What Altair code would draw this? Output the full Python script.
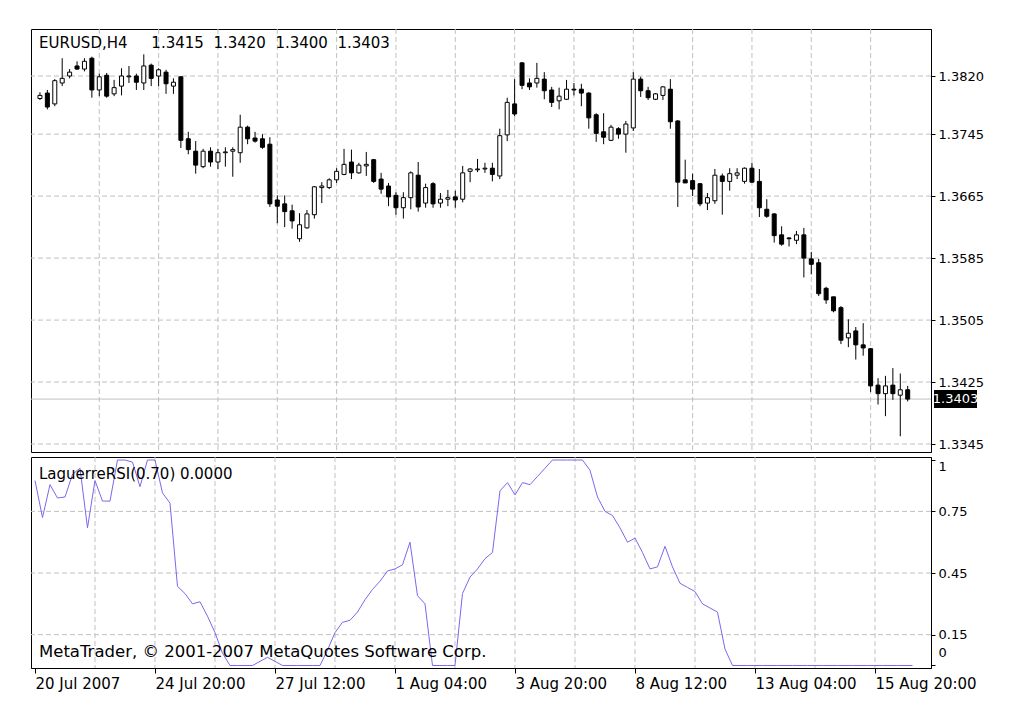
import altair as alt
import pandas as pd

# ---------------- data ----------------
bar_index = list(range(118))
open_ = [1.3791, 1.3798, 1.3784, 1.3811, 1.3820, 1.3833, 1.3829, 1.3843, 1.3802, 1.3821,
         1.3797, 1.3807, 1.3819, 1.3820, 1.3811, 1.3834, 1.3820, 1.3825, 1.3807, 1.3819,
         1.3739, 1.3723, 1.3703, 1.3723, 1.3709, 1.3721, 1.3723, 1.3721, 1.3754, 1.3740,
         1.3739, 1.3732, 1.3660, 1.3655, 1.3646, 1.3610, 1.3624, 1.3641, 1.3676, 1.3676,
         1.3686, 1.3693, 1.3709, 1.3695, 1.3704, 1.3712, 1.3687, 1.3678, 1.3666, 1.3650,
         1.3663, 1.3692, 1.3656, 1.3681, 1.3656, 1.3661, 1.3664, 1.3661, 1.3697, 1.3699,
         1.3700, 1.3701, 1.3691, 1.3744, 1.3784, 1.3837, 1.3811, 1.3811, 1.3816, 1.3802,
         1.3788, 1.3790, 1.3803, 1.3803, 1.3798, 1.3770, 1.3748, 1.3737, 1.3752, 1.3745,
         1.3753, 1.3816, 1.3801, 1.3790, 1.3795, 1.3803, 1.3762, 1.3686, 1.3685, 1.3681,
         1.3656, 1.3659, 1.3691, 1.3684, 1.3692, 1.3684, 1.3701, 1.3684, 1.3648, 1.3642,
         1.3615, 1.3611, 1.3608, 1.3615, 1.3584, 1.3579, 1.3546, 1.3535, 1.3521, 1.3482,
         1.3491, 1.3473, 1.3468, 1.3421, 1.3410, 1.3421, 1.3408, 1.3415]
high = [1.3799, 1.3802, 1.3816, 1.3843, 1.3829, 1.3839, 1.3843, 1.3845, 1.3823, 1.3824,
        1.3815, 1.3830, 1.3833, 1.3823, 1.3848, 1.3836, 1.3830, 1.3828, 1.3817, 1.3820,
        1.3748, 1.3736, 1.3726, 1.3728, 1.3726, 1.3728, 1.3728, 1.3770, 1.3756, 1.3748,
        1.3745, 1.3741, 1.3666, 1.3666, 1.3654, 1.3643, 1.3647, 1.3678, 1.3683, 1.3688,
        1.3701, 1.3726, 1.3725, 1.3708, 1.3722, 1.3713, 1.3695, 1.3682, 1.3670, 1.3670,
        1.3697, 1.3709, 1.3681, 1.3683, 1.3669, 1.3673, 1.3672, 1.3704, 1.3701, 1.3713,
        1.3708, 1.3708, 1.3752, 1.3792, 1.3816, 1.3838, 1.3817, 1.3837, 1.3825, 1.3806,
        1.3805, 1.3815, 1.3811, 1.3810, 1.3799, 1.3772, 1.3772, 1.3757, 1.3754, 1.3762,
        1.3825, 1.3819, 1.3806, 1.3798, 1.3807, 1.3816, 1.3763, 1.3712, 1.3694, 1.3682,
        1.3669, 1.3700, 1.3694, 1.3701, 1.3701, 1.3702, 1.3708, 1.3700, 1.3661, 1.3643,
        1.3626, 1.3612, 1.3620, 1.3624, 1.3593, 1.3584, 1.3548, 1.3535, 1.3523, 1.3506,
        1.3496, 1.3501, 1.3469, 1.3430, 1.3433, 1.3443, 1.3436, 1.3420]
low = [1.3789, 1.3777, 1.3781, 1.3807, 1.3817, 1.3828, 1.3826, 1.3792, 1.3794, 1.3792,
       1.3794, 1.3795, 1.3811, 1.3802, 1.3802, 1.3807, 1.3807, 1.3797, 1.3797, 1.3727,
       1.3719, 1.3694, 1.3701, 1.3703, 1.3700, 1.3703, 1.3690, 1.3708, 1.3732, 1.3734,
       1.3726, 1.3651, 1.3630, 1.3625, 1.3623, 1.3606, 1.3623, 1.3636, 1.3656, 1.3674,
       1.3682, 1.3692, 1.3687, 1.3694, 1.3691, 1.3682, 1.3668, 1.3652, 1.3641, 1.3636,
       1.3648, 1.3645, 1.3650, 1.3650, 1.3650, 1.3652, 1.3650, 1.3657, 1.3683, 1.3696,
       1.3695, 1.3684, 1.3687, 1.3736, 1.3768, 1.3803, 1.3802, 1.3805, 1.3790, 1.3780,
       1.3777, 1.3789, 1.3795, 1.3781, 1.3752, 1.3735, 1.3732, 1.3736, 1.3739, 1.3721,
       1.3749, 1.3793, 1.3789, 1.3789, 1.3789, 1.3752, 1.3651, 1.3682, 1.3665, 1.3652,
       1.3647, 1.3655, 1.3641, 1.3672, 1.3687, 1.3681, 1.3682, 1.3638, 1.3637, 1.3605,
       1.3601, 1.3600, 1.3603, 1.3560, 1.3564, 1.3536, 1.3526, 1.3515, 1.3474, 1.3470,
       1.3454, 1.3459, 1.3412, 1.3396, 1.3381, 1.3402, 1.3355, 1.3400]
close = [1.3795, 1.3780, 1.3814, 1.3817, 1.3825, 1.3829, 1.3839, 1.3802, 1.3819, 1.3794,
         1.3805, 1.3820, 1.3820, 1.3812, 1.3833, 1.3817, 1.3828, 1.3810, 1.3812, 1.3737,
         1.3725, 1.3705, 1.3723, 1.3709, 1.3721, 1.3722, 1.3725, 1.3754, 1.3739, 1.3736,
         1.3728, 1.3655, 1.3652, 1.3645, 1.3633, 1.3628, 1.3642, 1.3677, 1.3678, 1.3686,
         1.3697, 1.3706, 1.3695, 1.3705, 1.3706, 1.3684, 1.3674, 1.3664, 1.3650, 1.3663,
         1.3695, 1.3651, 1.3676, 1.3655, 1.3661, 1.3663, 1.3660, 1.3695, 1.3700, 1.3700,
         1.3701, 1.3693, 1.3743, 1.3786, 1.3771, 1.3808, 1.3806, 1.3817, 1.3801, 1.3786,
         1.3794, 1.3803, 1.3802, 1.3798, 1.3766, 1.3746, 1.3741, 1.3754, 1.3745, 1.3758,
         1.3816, 1.3801, 1.3792, 1.3797, 1.3806, 1.3761, 1.3683, 1.3682, 1.3674, 1.3655,
         1.3663, 1.3692, 1.3684, 1.3694, 1.3695, 1.3701, 1.3683, 1.3650, 1.3639, 1.3614,
         1.3603, 1.3610, 1.3615, 1.3585, 1.3577, 1.3539, 1.3531, 1.3517, 1.3479, 1.3488,
         1.3473, 1.3469, 1.3420, 1.3410, 1.3420, 1.3410, 1.3415, 1.3403]
lrsi = [0.90, 0.72, 0.88, 0.815, 0.82, 0.93, 0.96, 0.67, 0.90, 0.80,
        0.80, 1.00, 1.00, 0.99, 0.87, 1.00, 1.00, 0.84, 0.79, 0.385,
        0.35, 0.30, 0.31, 0.24, 0.16, 0.06, 0.00, 0.00, 0.00, 0.00,
        0.02, 0.04, 0.02, 0.00, 0.00, 0.00, 0.00, 0.00, 0.00, 0.075,
        0.16, 0.21, 0.22, 0.26, 0.32, 0.37, 0.41, 0.46, 0.47, 0.49,
        0.60, 0.34, 0.30, 0.00, 0.00, 0.00, 0.00, 0.35, 0.43, 0.47,
        0.52, 0.55, 0.85, 0.89, 0.83, 0.89, 0.88, 0.92, 0.96, 1.00,
        1.00, 1.00, 1.00, 1.00, 0.95, 0.82, 0.75, 0.73, 0.67, 0.60,
        0.62, 0.55, 0.47, 0.48, 0.58, 0.48, 0.40, 0.38, 0.36, 0.30,
        0.28, 0.26, 0.08, 0.00, 0.00, 0.00, 0.00, 0.00, 0.00, 0.00,
        0.00, 0.00, 0.00, 0.00, 0.00, 0.00, 0.00, 0.00, 0.00, 0.00,
        0.00, 0.00, 0.00, 0.00, 0.00, 0.00, 0.00, 0.00]

price_ticks = [1.3345, 1.3425, 1.3505, 1.3585, 1.3665, 1.3745, 1.3820]
rsi_ticks = [0, 0.15, 0.45, 0.75, 1]
rsi_grid = [0.15, 0.45, 0.75]
time_tick_index = [0, 16, 32, 48, 64, 80, 96, 112]
time_tick_labels = ["20 Jul 2007", "24 Jul 20:00", "27 Jul 12:00", "1 Aug 04:00",
                    "3 Aug 20:00", "8 Aug 12:00", "13 Aug 04:00", "15 Aug 20:00"]
vgrid_index = [8, 16, 24, 32, 40, 48, 56, 64, 72, 80, 88, 96, 104, 112]
last_price = [1.3403]
header_text = ["EURUSD,H4\u00a0\u00a0\u00a0\u00a0\u00a01.3415\u00a0\u00a01.3420\u00a0\u00a01.3400\u00a0\u00a01.3403"]
ind_text = ["LaguerreRSI(0.70) 0.0000"]
copy_text = ["MetaTrader, \u00a9 2001-2007 MetaQuotes Software Corp."]

# ---------------- chart ----------------
FONT = "DejaVu Sans"
GRID = "#C0C0C0"
W, H1, H2 = 900, 423, 211

df = pd.DataFrame({"i": bar_index, "o": open_, "h": high, "l": low, "c": close, "r": lrsi})

xscale = alt.Scale(domain=[-0.533, 119.467], nice=False, zero=False)
pscale = alt.Scale(domain=[1.33347, 1.38807], nice=False, zero=False)
rscale = alt.Scale(domain=[-0.0122, 1.0146], nice=False, zero=False)

label_arr = "[" + ",".join("'%s'" % s for s in time_tick_labels) + "]"
idx_arr = "[" + ",".join(str(v) for v in time_tick_index) + "]"

price_axis = alt.Axis(
    orient="right", values=price_ticks, format=".4f", title=None, grid=False,
    domainColor="black", tickColor="black", tickSize=4, labelPadding=3,
    labelFont=FONT, labelFontSize=13, labelColor="black")
time_axis = alt.Axis(
    orient="bottom", values=time_tick_index, title=None, grid=False,
    labelExpr=label_arr + "[indexof(" + idx_arr + ", datum.value)]",
    labelAlign="left", labelFlush=False, labelOverlap=False,
    domainColor="black", tickColor="black", tickSize=5, labelPadding=3,
    labelFont=FONT, labelFontSize=15, labelColor="black")
rsi_axis = alt.Axis(
    orient="right", values=rsi_ticks, format=".2~f", title=None, grid=False,
    labelFlush=5, labelOffset={"condition": {"test": "datum.value == 0", "value": -6}, "value": 0},
    domainColor="black", tickColor="black", tickSize=4, labelPadding=3,
    labelFont=FONT, labelFontSize=13, labelColor="black")

base = alt.Chart(df)
vgrid_df = pd.DataFrame({"i": vgrid_index})
dash = [5, 3]

# --- main (price) panel ---
m_vgrid = alt.Chart(vgrid_df).mark_rule(color=GRID, strokeDash=dash, strokeWidth=1).encode(
    x=alt.X("i:Q", scale=xscale, axis=None))
m_hgrid = alt.Chart(pd.DataFrame({"l": price_ticks})).mark_rule(
    color=GRID, strokeDash=dash, strokeWidth=1).encode(
    y=alt.Y("l:Q", scale=pscale, axis=price_axis))
m_last = alt.Chart(pd.DataFrame({"l": last_price})).mark_rule(color=GRID, strokeWidth=1).encode(
    y=alt.Y("l:Q", scale=pscale, axis=price_axis))
wicks = base.mark_rule(color="black", strokeWidth=1).encode(
    x=alt.X("i:Q", scale=xscale, axis=None),
    y=alt.Y("l:Q", scale=pscale, axis=price_axis),
    y2="h:Q")
bodies = base.mark_bar(size=4, stroke="black", strokeWidth=1).encode(
    x=alt.X("i:Q", scale=xscale, axis=None),
    y=alt.Y("o:Q", scale=pscale, axis=price_axis),
    y2="c:Q",
    fill=alt.condition("datum.c >= datum.o", alt.value("white"), alt.value("black")))
price_box = alt.Chart(pd.DataFrame({"l": last_price})).mark_point(
    shape="M-1,-0.42L1,-0.42L1,0.42L-1,0.42Z", size=1849, filled=True,
    color="black", opacity=1).encode(
    x=alt.value(924.5), y=alt.Y("l:Q", scale=pscale, axis=price_axis))
price_box_text = alt.Chart(pd.DataFrame({"l": last_price})).mark_text(
    color="white", font=FONT, fontSize=13, align="center", baseline="middle").encode(
    x=alt.value(924.5), y=alt.Y("l:Q", scale=pscale, axis=price_axis),
    text=alt.Text("l:Q", format=".4f"))
header = alt.Chart(pd.DataFrame({"t": header_text})).mark_text(
    align="left", baseline="middle", font=FONT, fontSize=15, color="black").encode(
    x=alt.value(8), y=alt.value(14), text="t:N")

main = alt.layer(m_vgrid, m_hgrid, m_last, wicks, bodies, price_box, price_box_text, header
                 ).properties(width=W, height=H1)

# --- indicator panel ---
i_vgrid = alt.Chart(vgrid_df).mark_rule(color=GRID, strokeDash=dash, strokeWidth=1).encode(
    x=alt.X("i:Q", scale=xscale, axis=time_axis))
i_hgrid = alt.Chart(pd.DataFrame({"r": rsi_grid})).mark_rule(
    color=GRID, strokeDash=dash, strokeWidth=1).encode(
    y=alt.Y("r:Q", scale=rscale, axis=rsi_axis))
line = base.mark_line(color="#7B68EE", strokeWidth=1).encode(
    x=alt.X("i:Q", scale=xscale, axis=time_axis),
    y=alt.Y("r:Q", scale=rscale, axis=rsi_axis))
ind_label = alt.Chart(pd.DataFrame({"t": ind_text})).mark_text(
    align="left", baseline="middle", font=FONT, fontSize=15, color="black").encode(
    x=alt.value(8), y=alt.value(17), text="t:N")
copy_label = alt.Chart(pd.DataFrame({"t": copy_text})).mark_text(
    align="left", baseline="middle", font=FONT, fontSize=16.5, color="black").encode(
    x=alt.value(8), y=alt.value(195), text="t:N")

indicator = alt.layer(i_vgrid, i_hgrid, line, ind_label, copy_label).properties(width=W, height=H2)

chart = alt.vconcat(main, indicator, spacing=3).properties(
    padding={"left": 22, "top": 20, "right": 5, "bottom": 5},
    background="white",
).configure_view(stroke="black", strokeWidth=1).configure_concat(spacing=3)

chart.save("out.html", embed_options={"renderer": "svg", "actions": False})
